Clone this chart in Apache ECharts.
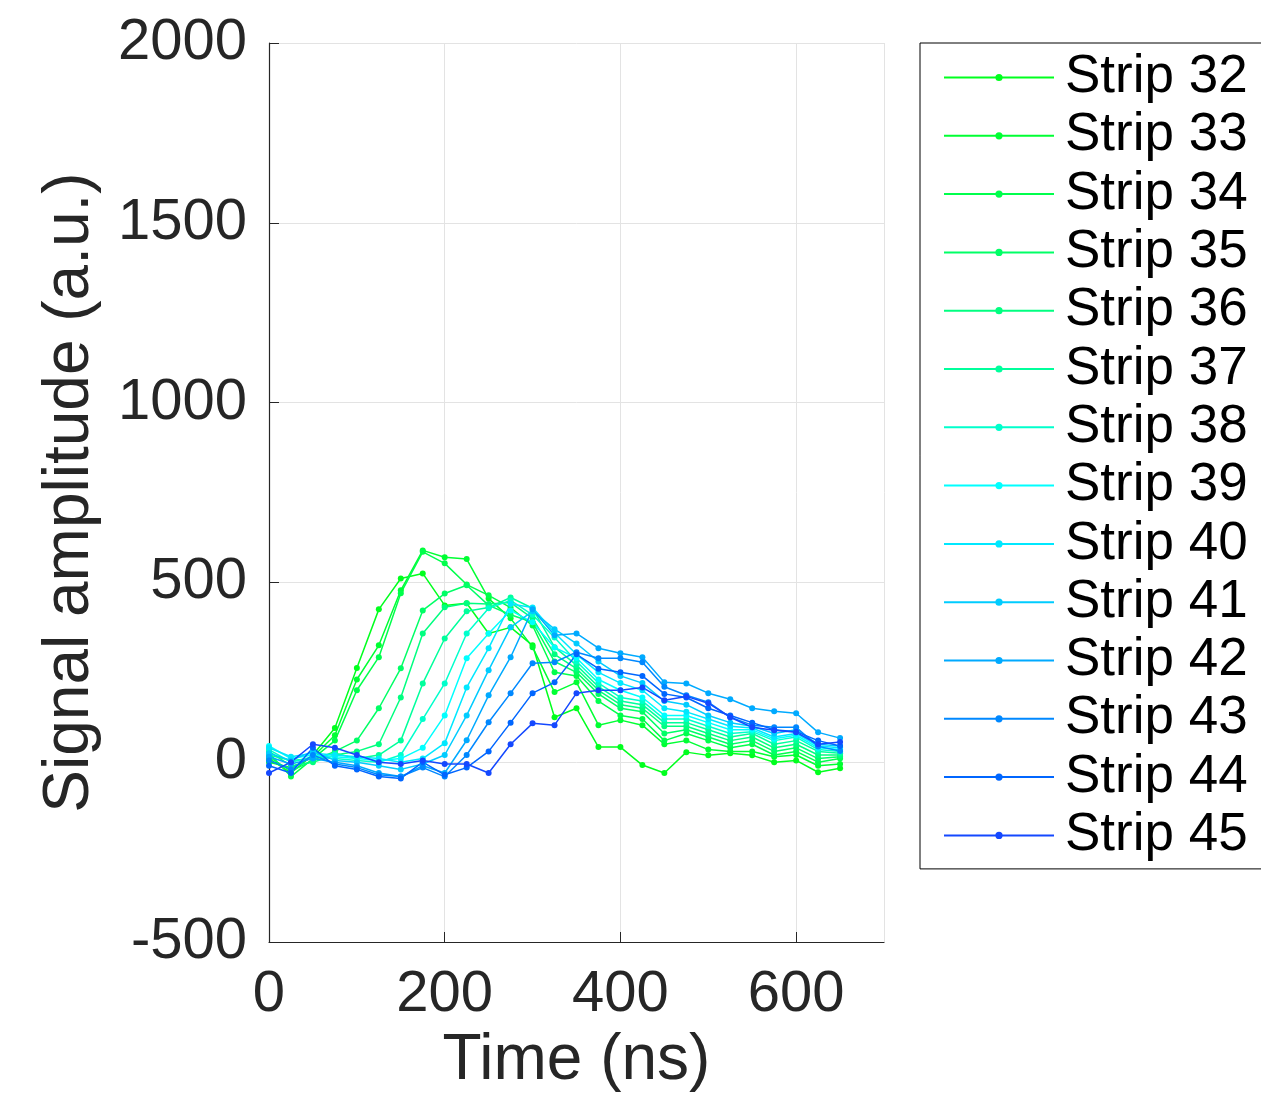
<!DOCTYPE html>
<html>
<head>
<meta charset="utf-8">
<title>Strip signals</title>
<script src="https://cdn.jsdelivr.net/npm/echarts@6/dist/echarts.min.js"></script>
<style>
    html, body { margin: 0; padding: 0; background: #fff; }
    #chart { width: 1261px; height: 1098px; }
</style>
</head>
<body>
<div id="chart"></div>
<script>
// sampling times (ns)
var times = [0, 25, 50, 75, 100, 125, 150, 175, 200, 225, 250, 275, 300, 325, 350, 375, 400, 425, 450, 475, 500, 525, 550, 575, 600, 625, 650];

var strips = ['Strip 32', 'Strip 33', 'Strip 34', 'Strip 35', 'Strip 36', 'Strip 37', 'Strip 38',
    'Strip 39', 'Strip 40', 'Strip 41', 'Strip 42', 'Strip 43', 'Strip 44', 'Strip 45'];

var colors = ['#00ff1e', '#00ff33', '#00ff4c', '#00ff66', '#00ff80', '#00ff9c', '#00ffcc',
    '#00ffff', '#00e8ff', '#00ccff', '#00aaff', '#0088ff', '#0066ff', '#1448ff'];

var strip32 = [10, -30, 20, 95, 262, 425, 511, 525, 436, 442, 358, 375, 325, 125, 150, 42, 42, -8, -30, 28, 19, 25, 19, 0, 5, -28, -17];
var strip33 = [0, -15, 15, 75, 230, 325, 478, 589, 570, 565, 455, 400, 320, 195, 222, 103, 117, 103, 50, 60, 35, 30, 30, 15, 20, -10, -5];
var strip34 = [25, -40, 10, 60, 200, 292, 470, 585, 553, 494, 464, 430, 380, 250, 240, 170, 130, 120, 60, 80, 60, 40, 50, 20, 30, 0, 10];
var strip35 = [15, -25, 5, 30, 60, 150, 261, 422, 469, 492, 436, 410, 389, 280, 250, 190, 150, 140, 80, 90, 70, 50, 60, 30, 40, 10, 15];
var strip36 = [30, -10, 0, 20, 30, 50, 180, 358, 431, 442, 440, 444, 400, 300, 260, 200, 160, 150, 100, 100, 80, 60, 70, 40, 50, 20, 20];
var strip37 = [20, 5, 10, 25, 10, 20, 60, 219, 344, 420, 430, 458, 428, 320, 270, 210, 170, 160, 110, 110, 90, 70, 80, 50, 60, 30, 25];
var strip38 = [35, 0, 15, 10, 5, 0, 20, 120, 219, 358, 428, 450, 410, 347, 280, 220, 180, 170, 120, 120, 100, 80, 85, 60, 70, 35, 30];
var strip39 = [45, 10, 20, 15, 10, 5, 10, 40, 130, 289, 358, 422, 389, 319, 290, 230, 200, 180, 130, 130, 110, 90, 90, 65, 75, 40, 35];
var strip40 = [40, 15, 25, 20, 15, 10, 0, 10, 53, 208, 317, 440, 430, 360, 300, 250, 220, 200, 150, 140, 120, 100, 95, 70, 80, 45, 40];
var strip41 = [25, 5, 30, 5, 0, -10, -20, -5, 20, 130, 256, 375, 420, 370, 330, 280, 240, 220, 170, 160, 130, 110, 100, 80, 90, 50, 45];
var strip42 = [15, -5, 10, 0, -10, -30, -40, -10, -30, 61, 186, 292, 425, 353, 358, 317, 303, 292, 222, 219, 192, 175, 150, 142, 136, 83, 67];
var strip43 = [5, -20, 20, -5, -15, -35, -40, -15, -40, 20, 111, 192, 275, 278, 306, 289, 289, 278, 210, 186, 167, 125, 103, 97, 97, 44, 31];
var strip44 = [-10, -30, 40, -10, -20, -40, -45, 0, -35, -15, 30, 110, 192, 222, 300, 260, 250, 240, 190, 180, 150, 130, 110, 90, 85, 60, 45];
var strip45 = [-30, 0, 50, 40, 20, 0, -5, 5, -5, -5, -30, 50, 108, 103, 192, 200, 200, 208, 172, 183, 164, 125, 97, 89, 83, 50, 56];

var allStrips = [strip32, strip33, strip34, strip35, strip36, strip37, strip38,
    strip39, strip40, strip41, strip42, strip43, strip44, strip45];

var textColor = '#262626';
var font = 'Liberation Sans';

var series = allStrips.map(function (values, i) {
    return {
        name: strips[i],
        type: 'line',
        data: values.map(function (v, j) { return [times[j], v]; }),
        symbol: 'circle',
        symbolSize: 6,
        showSymbol: true,
        color: colors[i],
        lineStyle: { width: 1.5 },
        emphasis: { disabled: true },
        animation: false
    };
});

var chart = echarts.init(document.getElementById('chart'));
chart.setOption({
    animation: false,
    grid: {
        left: 269,
        right: 377,
        top: 43,
        bottom: 156
    },
    legend: {
        orient: 'vertical',
        left: 920,
        top: 43,
        padding: [8, 20, 7, 23],
        itemWidth: 110,
        itemHeight: 9,
        itemGap: 5.3,
        borderColor: '#000',
        borderWidth: 1,
        data: strips,
        textStyle: {
            fontFamily: font,
            fontSize: 53,
            color: '#000',
            padding: [0, 0, 0, 6]
        }
    },
    xAxis: {
        type: 'value',
        min: 0,
        max: 700,
        interval: 200,
        name: 'Time (ns)',
        nameLocation: 'middle',
        nameGap: 82,
        nameTextStyle: { fontFamily: font, fontSize: 64, color: textColor },
        axisLine: { onZero: false, lineStyle: { color: textColor, width: 1.2 } },
        axisTick: { inside: true, length: 10, lineStyle: { color: textColor } },
        axisLabel: { fontFamily: font, fontSize: 58, color: textColor, margin: 24, showMaxLabel: false },
        splitLine: { show: true, lineStyle: { color: '#e3e3e3', width: 1 } }
    },
    yAxis: {
        type: 'value',
        min: -500,
        max: 2000,
        interval: 500,
        name: 'Signal amplitude (a.u.)',
        nameLocation: 'middle',
        nameGap: 167,
        nameTextStyle: { fontFamily: font, fontSize: 64, color: textColor },
        axisLine: { show: true, onZero: false, lineStyle: { color: textColor, width: 1.2 } },
        axisTick: { show: true, inside: true, length: 10, lineStyle: { color: textColor } },
        axisLabel: {
            fontFamily: font, fontSize: 58, color: textColor, margin: 22,
            formatter: function (v) { return String(v); }
        },
        splitLine: { show: true, lineStyle: { color: '#e3e3e3', width: 1 } }
    },
    series: series
});
</script>
</body>
</html>
